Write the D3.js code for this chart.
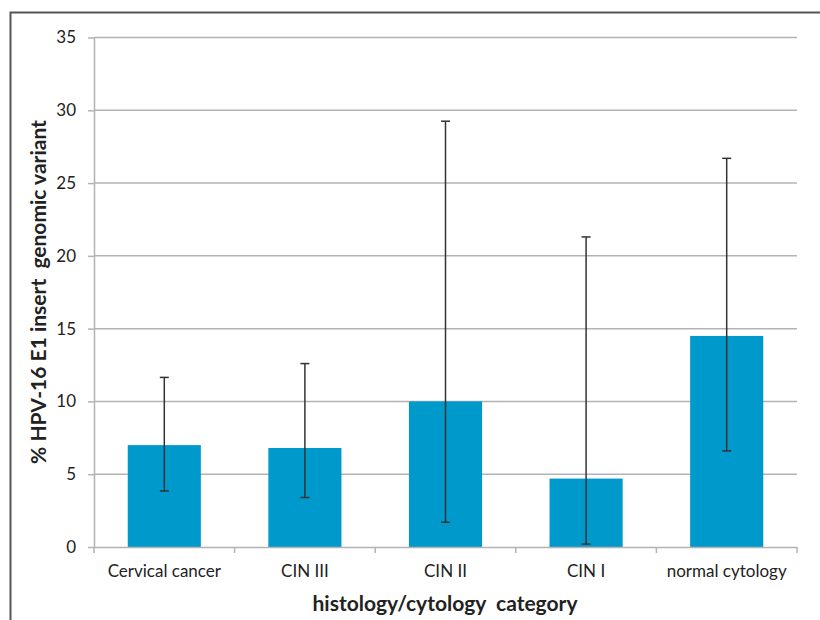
<!DOCTYPE html>
<html><head><meta charset="utf-8">
<script src="https://cdn.jsdelivr.net/npm/d3@7"></script>
<style>body{margin:0;background:#fff}svg{display:block}</style>
</head><body>
<svg id="chart" width="820" height="620"></svg>
<script>
const categories = ["Cervical cancer", "CIN III", "CIN II", "CIN I", "normal cytology"];
const values = [7.0, 6.8, 10.0, 4.7, 14.5];
const errLow = [3.85, 3.4, 1.7, 0.2, 6.6];
const errHigh = [11.65, 12.6, 29.25, 21.3, 26.7];
const yTicks = [0, 5, 10, 15, 20, 25, 30, 35];

const svg = d3.select("#chart");
const font = "Lato, 'Open Sans', sans-serif";
const m = {left: 94, right: 797, top: 37.5, bottom: 547};

// frame
svg.append("path").attr("d", "M10.5,620 L10.5,12.5 L820,12.5")
  .attr("fill", "none").attr("stroke", "#555").attr("stroke-width", 2);

const x = d3.scaleBand().domain(categories).range([m.left, m.right]).paddingInner(0.48).paddingOuter(0.24);
const y = d3.scaleLinear().domain([0, 35]).range([m.bottom, m.top]);

// gridlines
svg.append("g").selectAll("line").data(yTicks.filter(d => d > 0)).join("line")
  .attr("x1", m.left).attr("x2", m.right)
  .attr("y1", d => y(d)).attr("y2", d => y(d))
  .attr("stroke", "#b3b3b3").attr("stroke-width", 1.5);

// y axis
const yAxis = svg.append("g").attr("transform", `translate(${m.left},0)`)
  .call(d3.axisLeft(y).tickValues(yTicks).tickSize(6).tickPadding(12).tickSizeOuter(0));
yAxis.select(".domain").attr("stroke", "#b3b3b3").attr("stroke-width", 1.5);
yAxis.selectAll(".tick line").attr("stroke", "#b3b3b3").attr("stroke-width", 1.5);
yAxis.selectAll("text").attr("font-family", font).attr("font-size", 17).attr("fill", "#222");

// bars
svg.append("g").selectAll("rect").data(categories).join("rect")
  .attr("x", d => x(d)).attr("width", x.bandwidth())
  .attr("y", (d, i) => y(values[i])).attr("height", (d, i) => y(0) - y(values[i]))
  .attr("fill", "#0099cc");

// x axis
const xAxis = svg.append("g").attr("transform", `translate(0,${m.bottom})`)
  .call(d3.axisBottom(x).tickSize(0).tickPadding(18));
xAxis.select(".domain").attr("stroke", "#b3b3b3").attr("stroke-width", 1.5);
xAxis.selectAll("text").attr("font-family", font).attr("font-size", 17).attr("fill", "#222");
// category boundary ticks
const bounds = d3.range(categories.length + 1).map(i => m.left + i * x.step());
svg.append("g").selectAll("line").data(bounds).join("line")
  .attr("x1", d => d).attr("x2", d => d).attr("y1", m.bottom).attr("y2", m.bottom + 6)
  .attr("stroke", "#b3b3b3").attr("stroke-width", 1.5);

// error bars
const eb = svg.append("g").attr("stroke", "#333").attr("stroke-width", 1.5);
categories.forEach((c, i) => {
  const cx = x(c) + x.bandwidth() / 2;
  eb.append("line").attr("x1", cx).attr("x2", cx).attr("y1", y(errLow[i])).attr("y2", y(errHigh[i]));
  [errLow[i], errHigh[i]].forEach(v => {
    eb.append("line").attr("x1", cx - 4.5).attr("x2", cx + 4.5).attr("y1", y(v)).attr("y2", y(v));
  });
});

// titles
svg.append("text").attr("transform", `translate(46,292) rotate(-90)`)
  .attr("text-anchor", "middle").attr("font-family", font).attr("font-weight", "bold")
  .attr("font-size", 21).attr("fill", "#222").attr("xml:space", "preserve")
  .text("% HPV-16 E1 insert  genomic variant");
svg.append("text").attr("x", 445).attr("y", 611)
  .attr("text-anchor", "middle").attr("font-family", font).attr("font-weight", "bold")
  .attr("font-size", 21).attr("fill", "#222").attr("xml:space", "preserve")
  .text("histology/cytology  category");
</script>
</body></html>
